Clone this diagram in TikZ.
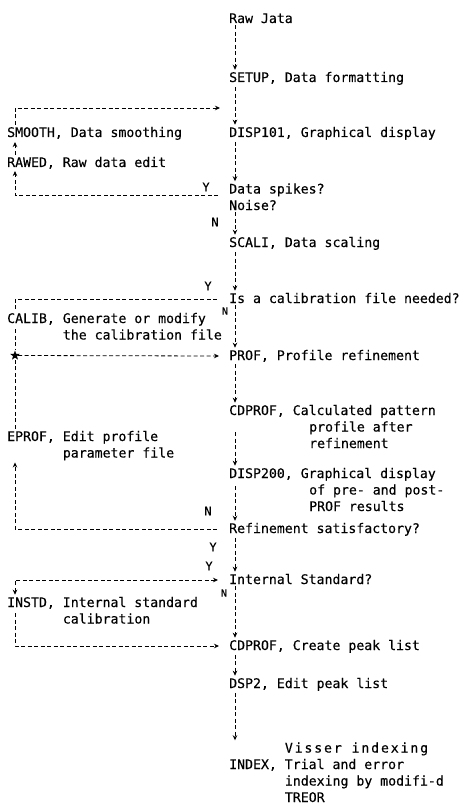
\documentclass[tikz,border=0pt]{standalone}
\usepackage{fontspec}
\usetikzlibrary{arrows.meta,shapes.geometric}
\newfontfamily\typer[FakeBold=0.35]{DejaVu Sans Mono}

\begin{document}
\begin{tikzpicture}[
    x=1pt, y=-1pt,
    prog/.style={anchor=base west, inner sep=2pt, align=left, font=\typer\fontsize{13.2}{16.5}\selectfont},
    yn/.style={inner sep=0pt, font=\typer\fontsize{12}{14}\selectfont},
    link/.style={line width=0.8pt, dash pattern=on 4pt off 2.5pt},
    flow/.style={link, -{Stealth[length=5pt,width=4.5pt]}},
    twoway/.style={link, {Stealth[length=5pt,width=4.5pt]}-{Stealth[length=5pt,width=4.5pt]}}
]
\useasboundingbox (0,0) rectangle (462,805);

% Main column (multi-line nodes sit on the baseline of their last line)
\node[prog] (raw) at (227,23) {Raw Jata};
\node[prog] (setup) at (227,82) {SETUP, Data formatting};
\node[prog] (disp101) at (227,137) {DISP101, Graphical display};
\node[prog] (spikes) at (227,210) {Data spikes?\\Noise?};
\node[prog] (scali) at (227,247) {SCALI, Data scaling};
\node[prog] (calq) at (227,303) {Is a calibration file needed?};
\node[prog] (prof) at (227,360) {PROF, Profile refinement};
\node[prog] (cdprof) at (227,448) {CDPROF, Calculated pattern\\\hspace*{80pt}profile after\\\hspace*{80pt}refinement};
\node[prog] (disp200) at (227,511) {DISP200, Graphical display\\\hspace*{80pt}of pre- and post-\\\hspace*{80pt}PROF results};
\node[prog] (refok) at (227,533) {Refinement satisfactory?};
\node[prog] (intstd) at (227,584) {Internal Standard?};
\node[prog] (peaks) at (227,650) {CDPROF, Create peak list};
\node[prog] (dsp2) at (227,688) {DSP2, Edit peak list};
\node[prog] (index) at (227,802) {\hspace*{55.7pt}{\addfontfeature{LetterSpace=14}Visser indexing}\\INDEX, Trial and error\\\hspace*{55.7pt}indexing by modifi-d\\\hspace*{55.7pt}TREOR};

% Left column
\node[prog] (smooth) at (5,137) {SMOOTH, Data smoothing};
\node[prog] (rawed) at (5,167) {RAWED, Raw data edit};
\node[prog] (calib) at (5,339.5) {CALIB, Generate or modify\\\hspace*{55.7pt}the calibration file};
\node[prog] (eprof) at (5,457.5) {EPROF, Edit profile\\\hspace*{55.7pt}parameter file};
\node[prog] (instd) at (5,623.5) {INSTD, Internal standard\\\hspace*{55.7pt}calibration};
\node[star, star points=5, star point ratio=2.4, fill, inner sep=0pt, minimum size=10pt] (hub) at (15,355.5) {};
\coordinate (loopin) at (220,108);

% Branch labels
\node[yn] (yspk) at (206,187) {Y};
\node[yn] (nnoise) at (215,222) {N};
\node[yn] (ycal) at (208,286) {Y};
\node[yn, font=\typer\fontsize{10}{12}\selectfont] (ncal) at (225,311) {N};
\node[yn] (nref) at (208,511) {N};
\node[yn] (yref) at (213,547) {Y};
\node[yn] (yint) at (209,566) {Y};
\node[yn, font=\typer\fontsize{10}{12}\selectfont] (nint) at (224,593) {N};

% Arrows
\draw[flow] ([xshift=8pt]raw.south west) -- ([xshift=8pt]setup.north west);
\draw[flow] ([xshift=8pt]setup.south west) -- ([xshift=8pt]disp101.north west);
\draw[flow] ([xshift=8pt]disp101.south west) -- ([xshift=8pt]spikes.north west);
\draw[flow] ([xshift=8pt]spikes.south west) -- ([xshift=8pt]scali.north west);
\draw[flow] ([xshift=8pt]scali.south west) -- ([xshift=8pt]calq.north west);
\draw[flow] ([xshift=8pt]calq.south west) -- ([xshift=8pt]prof.north west);
\draw[flow] ([xshift=8pt]prof.south west) -- ([xshift=8pt]cdprof.north west);
\draw[flow] ([xshift=8pt,yshift=16pt]cdprof.base west) -- ([xshift=8pt]disp200.north west);
\draw[flow] ([xshift=8pt,yshift=25pt]disp200.base west) -- ([xshift=8pt]refok.north west);
\draw[flow] ([xshift=8pt]refok.south west) -- ([xshift=8pt]intstd.north west);
\draw[flow] ([xshift=8pt]intstd.south west) -- ([xshift=8pt]peaks.north west);
\draw[flow] ([xshift=8pt]peaks.south west) -- ([xshift=8pt]dsp2.north west);
\draw[flow] ([xshift=8pt]dsp2.south west) -- ([xshift=8pt]index.north west);

\draw[flow] ([xshift=-9pt,yshift=15pt]spikes.base west) -| ([xshift=10pt]rawed.south west);
\draw[flow] ([xshift=10pt]rawed.north west) -- ([xshift=10pt]smooth.south west);
\draw[flow] ([xshift=10pt]smooth.north west) |- (loopin);

\draw[link] ([xshift=-10pt,yshift=4pt]calq.base west) -| ([xshift=10pt]calib.north west);
\draw[link] ([xshift=10pt,yshift=10.5pt]calib.base west) -- (hub);
\draw[flow] (hub) -- ([xshift=-8pt,yshift=4pt]prof.base west);
\draw[link] ([xshift=10pt]eprof.north west) -- (hub);
\draw[flow] ([xshift=-10pt,yshift=4pt]refok.base west) -| ([xshift=10pt]eprof.south west);

\draw[twoway] ([xshift=10pt]instd.north west) |- ([xshift=-9pt,yshift=4pt]intstd.base west);
\draw[flow] ([xshift=10pt,yshift=10.5pt]instd.base west) |- ([xshift=-8pt,yshift=4pt]peaks.base west);

\end{tikzpicture}
\end{document}
